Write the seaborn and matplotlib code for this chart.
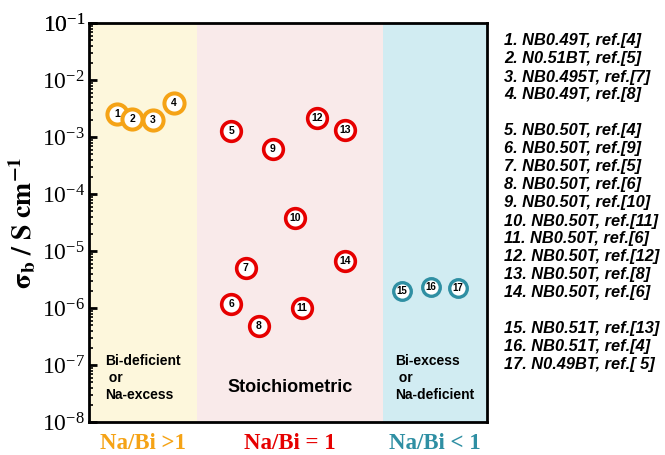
import numpy as np
import pandas as pd
import matplotlib
matplotlib.use("Agg")
import matplotlib.pyplot as plt
import seaborn as sns
from matplotlib.ticker import FixedLocator, NullFormatter, LogFormatterMathtext

# ---- data -------------------------------------------------------------
sample_ids = [str(i) for i in range(1, 18)]
x_pos = [0.70, 1.08, 1.61, 2.14,
         3.57, 3.57, 3.94, 4.27, 4.62, 5.18, 5.35, 5.73, 6.43, 6.43,
         7.86, 8.59, 9.27]
sigma_b = [2.5e-3, 2.1e-3, 2.0e-3, 4.0e-3,
           1.27e-3, 1.17e-6, 5.0e-6, 4.8e-7, 6.1e-4, 3.8e-5, 1.0e-6,
           2.15e-3, 1.33e-3, 6.7e-6,
           2.0e-6, 2.3e-6, 2.2e-6]
group = ["gt"] * 4 + ["eq"] * 10 + ["lt"] * 3

decades = list(range(-8, 0))
region_edges = [0.0, 2.71, 7.39, 10.0]
region_labels = ["Na/Bi >1", "Na/Bi = 1", "Na/Bi < 1"]
region_notes = ["Bi-deficient\n or\nNa-excess", "Stoichiometric",
                "Bi-excess\n or\nNa-deficient"]

legend_lines = [
    "1. NB0.49T, ref.[4]", "2. N0.51BT, ref.[5]", "3. NB0.495T, ref.[7]",
    "4. NB0.49T, ref.[8]", "",
    "5. NB0.50T, ref.[4]", "6. NB0.50T, ref.[9]", "7. NB0.50T, ref.[5]",
    "8. NB0.50T, ref.[6]", "9. NB0.50T, ref.[10]", "10. NB0.50T, ref.[11]",
    "11. NB0.50T, ref.[6]", "12. NB0.50T, ref.[12]", "13. NB0.50T, ref.[8]",
    "14. NB0.50T, ref.[6]", "",
    "15. NB0.51T, ref.[13]", "16. NB0.51T, ref.[4]", "17. N0.49BT, ref.[ 5]",
]

df = pd.DataFrame({"id": sample_ids, "x": x_pos, "sigma": sigma_b,
                   "group": group})

# ---- styling ------------------------------------------------------------
sns.set_theme(style="white")
plt.rcParams["font.family"] = ["Liberation Sans", "DejaVu Sans"]
plt.rcParams["mathtext.fontset"] = "stix"
for key in ["text.color", "axes.labelcolor", "xtick.color", "ytick.color"]:
    plt.rcParams[key] = "black"

ring_colors = {"gt": "#F5A316", "eq": "#E60000", "lt": "#2F8FA3"}
bg_colors = ["#FDF7DC", "#F9EAEA", "#D1ECF2"]
label_colors = ["#F5A316", "#E60000", "#2F8FA3"]
ring_size = {"gt": 210, "eq": 200, "lt": 160}
ring_width = {"gt": 2.9, "eq": 2.6, "lt": 2.4}
num_size = {"gt": 7.5, "eq": 7.5, "lt": 7}

fig = plt.figure(figsize=(6.65, 4.55), dpi=100)
ax = fig.add_axes([0.134, 0.0725, 0.598, 0.877])

for i, c in enumerate(bg_colors):
    ax.axvspan(region_edges[i], region_edges[i + 1], color=c, lw=0, zorder=0)

for g in ["gt", "eq", "lt"]:
    sub = df[df["group"] == g]
    sns.scatterplot(data=sub, x="x", y="sigma", ax=ax, s=ring_size[g],
                    color="white", edgecolor=ring_colors[g],
                    linewidth=ring_width[g], zorder=3, legend=False)
    for _, r in sub.iterrows():
        ax.text(r["x"], r["sigma"], r["id"], ha="center", va="center",
                fontsize=num_size[g], fontweight="bold", color="black",
                zorder=4)

ax.set_yscale("log")
ax.set_ylim(1e-8, 1e-1)
ax.set_xlim(region_edges[0], region_edges[-1])
ax.set_xticks([])
ax.set_xlabel("")
ax.set_ylabel(r"$\mathbf{\sigma_b\ /\ S\ cm^{-1}}$", fontsize=20, labelpad=3)

major = [10.0 ** d for d in decades + [-1]]
minor = [m * 10.0 ** d for d in decades for m in range(2, 10)]
ax.yaxis.set_major_locator(FixedLocator(major))
ax.yaxis.set_major_formatter(LogFormatterMathtext())
ax.yaxis.set_minor_locator(FixedLocator(minor))
ax.yaxis.set_minor_formatter(NullFormatter())
ax.tick_params(axis="y", which="major", direction="in", length=6, width=2,
               left=True, right=False, labelsize=17, pad=3)
ax.tick_params(axis="y", which="minor", direction="in", length=3, width=1.2,
               left=True, right=False)
for lab in ax.get_yticklabels():
    lab.set_fontfamily("Liberation Serif")

for s in ax.spines.values():
    s.set_visible(True)
    s.set_color("black")
    s.set_linewidth(2.0)

# region captions below the axis
for i, (lab, col) in enumerate(zip(region_labels, label_colors)):
    cx = (region_edges[i] + region_edges[i + 1]) / 2
    ax.text(cx, -0.055, lab, transform=ax.get_xaxis_transform(),
            ha="center", va="center", fontsize=16.5, fontweight="bold",
            color=col, family="Liberation Serif")

# notes inside the regions
ax.text(0.4, 10 ** -7.23, region_notes[0], ha="left", va="center",
        fontsize=10, fontweight="bold", linespacing=1.3)
ax.text(5.06, 10 ** -7.40, region_notes[1], ha="center", va="center",
        fontsize=13, fontweight="bold")
ax.text(7.7, 10 ** -7.23, region_notes[2], ha="left", va="center",
        fontsize=10, fontweight="bold", linespacing=1.3)

# reference list on the right
y0 = 1 - 41 / 455
step = 18 / 455
for k, line in enumerate(legend_lines):
    if line:
        fig.text(504 / 665, y0 - k * step, line, ha="left", va="center",
                 fontsize=11.8, fontweight="bold", fontstyle="italic")

fig.savefig("out.png", dpi=100)
